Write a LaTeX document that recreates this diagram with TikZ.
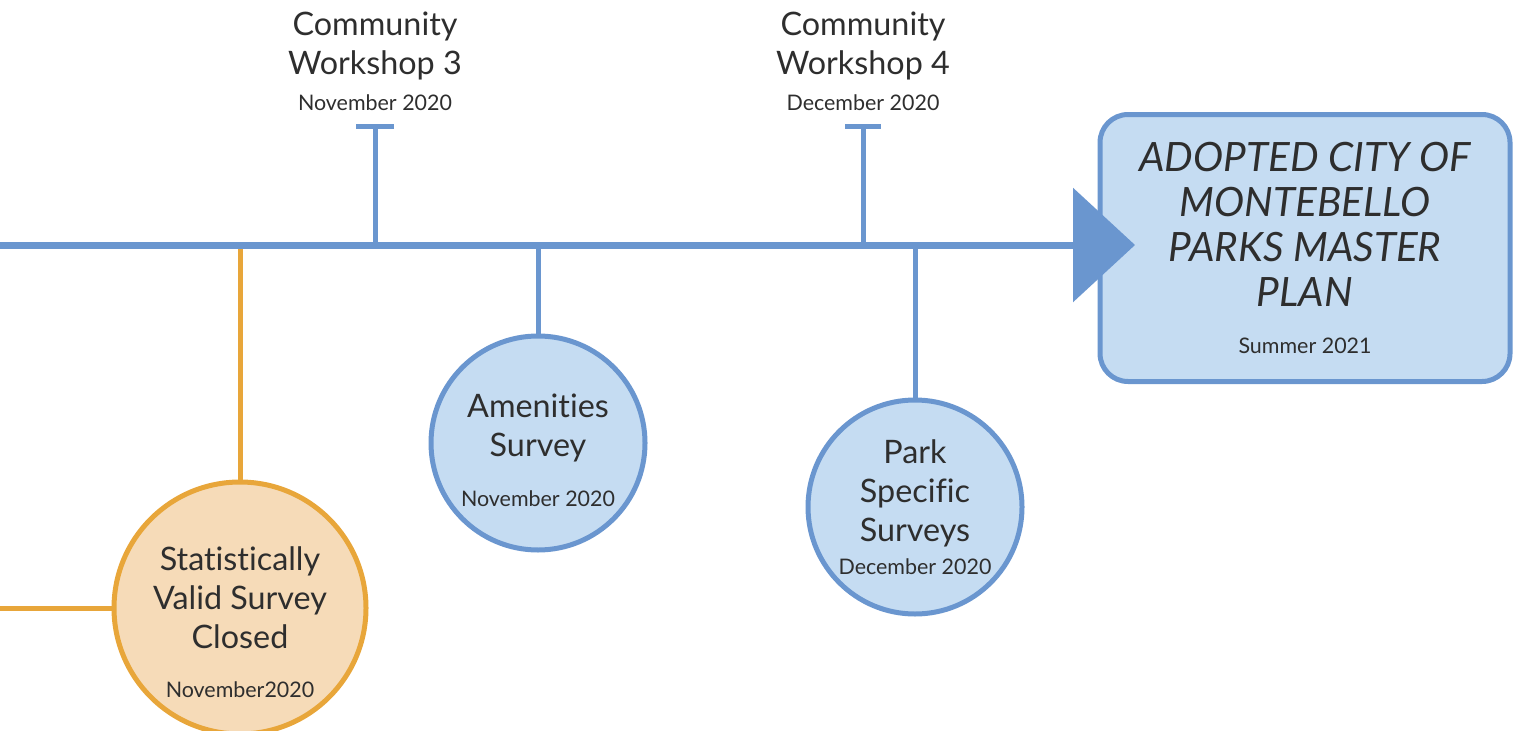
\documentclass[tikz,border=0pt]{standalone}
\usepackage{fontspec}
\setmainfont{Lato}[Ligatures = NoCommon]
\usetikzlibrary{arrows.meta,positioning}
\definecolor{lineblue}{HTML}{6A96CF}
\definecolor{fillblue}{HTML}{C5DCF2}
\definecolor{lineorange}{HTML}{E8A63A}
\definecolor{fillorange}{HTML}{F6DBB8}
\definecolor{txtgray}{HTML}{2E2E2E}
\newcommand{\mainsize}{\fontsize{9.2}{11.1}\selectfont}
\newcommand{\datesize}{\fontsize{6.1}{7}\selectfont}
\newcommand{\titlesize}{\fontsize{11.5}{12.8}\selectfont}
\begin{document}
\begin{tikzpicture} [x = 0.1mm, y = -0.1mm,
	timeline/.style = {lineblue, line width = 0.7mm},
	stem/.style = {lineblue, line width = 0.5mm},
	ostem/.style = {lineorange, line width = 0.5mm},
	bluedot/.style = {circle, draw = lineblue, fill = fillblue, line width = 0.5mm, minimum size = 21.4mm, inner sep = 0pt, align = center, text = txtgray, font = \mainsize},
	orangedot/.style = {circle, draw = lineorange, fill = fillorange, line width = 0.5mm, minimum size = 25.2mm, inner sep = 0pt, align = center, text = txtgray, font = \mainsize},
	wslabel/.style = {inner sep = 0pt, align = center, text = txtgray, font = \mainsize},
	goalbox/.style = {draw = lineblue, fill = fillblue, line width = 0.5mm, rounded corners = 2.8mm, minimum width = 41mm, minimum height = 26.7mm, align = center, text = txtgray, font = \titlesize\itshape}]
	\useasboundingbox (0,0) rectangle (1518,730);
	\coordinate (start) at (0,245);
	\coordinate (tip) at (1135,245);
	\coordinate (svsbase) at (240,248);
	\coordinate (amenbase) at (538,245);
	\coordinate (parkbase) at (915,245);
	\coordinate (ws3base) at (375,245);
	\coordinate (ws3top) at (375,127);
	\coordinate (ws4base) at (863,245);
	\coordinate (ws4top) at (863,127);
	\node (svs) [orangedot] at (240,608) {\rule{0pt}{5.3mm}Statistically\\Valid Survey\\Closed\\[1mm]{\datesize November2020}};
	\node (amen) [bluedot] at (538,443) {\rule{0pt}{3.9mm}Amenities\\Survey\\[1.1mm]{\datesize November 2020}};
	\node (park) [bluedot] at (915,507) {Park\\Specific\\Surveys\\[-0.6mm]{\datesize December 2020}};
	\node (plan) [goalbox] at (1305,248) {ADOPTED CITY OF\\MONTEBELLO\\PARKS MASTER\\PLAN\\[0.2mm]{\normalfont\datesize Summer 2021}};
	\draw [ostem] (svs.north) -- (svsbase);
	\draw [ostem] (svs.west) -- (svs.west -| start);
	\draw [stem] (amen.north) -- (amenbase);
	\draw [stem] (park.north) -- (parkbase);
	\draw [stem] (ws3top) -- (ws3base);
	\draw [stem] ([xshift = -1.9mm]ws3top) -- ([xshift = 1.9mm]ws3top);
	\draw [stem] (ws4top) -- (ws4base);
	\draw [stem] ([xshift = -1.8mm]ws4top) -- ([xshift = 1.8mm]ws4top);
	\node (ws3) [wslabel, above = 1.6mm of ws3top] {Community\\Workshop 3\\[-0.3mm]{\datesize November 2020}};
	\node (ws4) [wslabel, above = 1.6mm of ws4top] {Community\\Workshop 4\\[-0.3mm]{\datesize December 2020}};
	\draw [timeline, -{Triangle[length = 6.2mm, width = 11.3mm]}] (start) -- (tip);
\end{tikzpicture}
\end{document}
